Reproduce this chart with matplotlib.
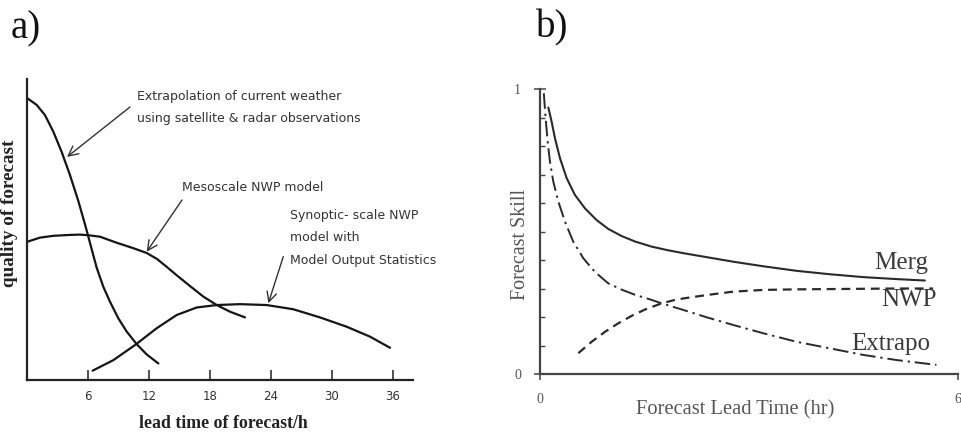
import matplotlib
matplotlib.use("Agg")
import matplotlib.pyplot as plt
from matplotlib.ticker import FixedLocator

# ---------------- data: panel a ----------------
a_extrap_x = [0.03, 0.95, 1.77, 2.59, 3.41, 4.23, 5.05, 5.71, 6.04, 6.37, 6.86, 7.51, 8.17, 8.99, 9.81, 10.8, 11.78, 12.93]
a_extrap_y = [0.936, 0.914, 0.880, 0.825, 0.758, 0.681, 0.595, 0.517, 0.476, 0.434, 0.373, 0.310, 0.260, 0.205, 0.161, 0.119, 0.085, 0.055]
a_meso_x = [0, 1.28, 2.59, 4.23, 5.22, 6.04, 7.19, 8.83, 10.46, 11.78, 12.8, 13.75, 14.7, 15.72, 17.36, 18.68, 19.98, 21.46]
a_meso_y = [0.459, 0.473, 0.479, 0.482, 0.483, 0.481, 0.476, 0.456, 0.438, 0.422, 0.402, 0.376, 0.349, 0.321, 0.277, 0.249, 0.227, 0.208]
a_syn_x = [6.46, 8.5, 10.63, 12.77, 14.74, 16.71, 18.68, 20.97, 23.6, 26.22, 28.84, 31.47, 33.77, 35.74]
a_syn_y = [0.031, 0.066, 0.116, 0.172, 0.216, 0.241, 0.249, 0.252, 0.249, 0.235, 0.208, 0.177, 0.144, 0.107]
a_ticks = [6, 12, 18, 24, 30, 36]
a_tick_labels = ["6", "12", "18", "24", "30", "36"]
a_annot_texts = ["Extrapolation of current weather\nusing satellite & radar observations",
                 "Mesoscale NWP model",
                 "Synoptic- scale NWP\nmodel with\nModel Output Statistics"]

# ---------------- data: panel b ----------------
b_merg_x = [0.12, 0.167, 0.215, 0.287, 0.383, 0.502, 0.646, 0.813, 0.98, 1.172, 1.363, 1.602, 1.841, 2.08,
            2.392, 2.774, 3.204, 3.683, 4.161, 4.639, 5.117, 5.524]
b_merg_y = [0.935, 0.885, 0.827, 0.757, 0.687, 0.628, 0.581, 0.540, 0.509, 0.484, 0.465, 0.447, 0.434, 0.423,
            0.410, 0.394, 0.378, 0.362, 0.350, 0.340, 0.333, 0.328]
b_nwp_x = [0.55, 0.741, 0.933, 1.124, 1.315, 1.506, 1.746, 1.937, 2.08, 2.392, 2.774, 3.204, 3.683, 4.161,
           4.639, 5.117, 5.643]
b_nwp_y = [0.073, 0.113, 0.148, 0.178, 0.204, 0.226, 0.248, 0.260, 0.266, 0.277, 0.289, 0.295, 0.297, 0.298,
           0.299, 0.300, 0.300]
b_ext_x = [0.055, 0.068, 0.081, 0.110, 0.143, 0.191, 0.263, 0.359, 0.478, 0.622, 0.789, 0.98, 1.172, 1.363,
           1.602, 1.746, 2.08, 2.392, 2.774, 3.204, 3.683, 4.161, 4.639, 5.117, 5.691]
b_ext_y = [0.985, 0.940, 0.897, 0.815, 0.745, 0.675, 0.605, 0.534, 0.464, 0.406, 0.358, 0.318, 0.296, 0.278,
           0.260, 0.248, 0.223, 0.199, 0.172, 0.143, 0.113, 0.090, 0.067, 0.049, 0.032]
b_series_names = ["Merg", "NWP", "Extrapo"]
b_xticks = [0, 6]
b_yticks = [0, 1]

W, H = 962, 434
fig = plt.figure(figsize=(W / 100, H / 100), dpi=100)

def fx(px):
    return px / W

def fy(py):
    return 1 - py / H

SERIF = "Liberation Serif"
SANS = "DejaVu Sans"

# ---------------- panel a ----------------
axa = fig.add_axes([fx(27), fy(380), fx(413) - fx(27), fy(79) - fy(380)])
axa.set_xlim(0, 38)
axa.set_ylim(0, 1)
for s in ["top", "right"]:
    axa.spines[s].set_visible(False)
for s in ["left", "bottom"]:
    axa.spines[s].set_linewidth(1.6)
    axa.spines[s].set_color("#222222")
axa.set_yticks([])
axa.set_xticks(a_ticks)
axa.set_xticklabels(a_tick_labels, fontfamily=SANS, fontsize=8.5, color="#333333")
axa.tick_params(axis="x", direction="in", length=7, width=1.1, color="#222222", pad=7)

lc = "#151515"
for xs, ys in [(a_extrap_x, a_extrap_y), (a_meso_x, a_meso_y), (a_syn_x, a_syn_y)]:
    axa.plot(xs, ys, color=lc, lw=1.6, solid_capstyle="round", solid_joinstyle="round")

aprops = dict(arrowstyle="->,head_length=0.7,head_width=0.35", color="#333333", lw=1.0,
              shrinkA=0, shrinkB=0)
axa.annotate("", xy=(3.94, 0.741), xytext=(10.14, 0.907), arrowprops=aprops)
axa.annotate("", xy=(11.78, 0.426), xytext=(15.26, 0.598), arrowprops=aprops)
axa.annotate("", xy=(23.76, 0.255), xytext=(25.23, 0.41), arrowprops=aprops)
axa.text(10.83, 0.906, a_annot_texts[0], fontfamily=SANS, fontsize=9, color="#333333",
         ha="left", va="center", linespacing=1.85)
axa.text(15.26, 0.638, a_annot_texts[1], fontfamily=SANS, fontsize=9, color="#333333",
         ha="left", va="center")
axa.text(25.89, 0.472, a_annot_texts[2], fontfamily=SANS, fontsize=9, color="#333333",
         ha="left", va="center", linespacing=1.95)

fig.text(fx(10), fy(213), "quality of forecast", rotation=90, ha="center", va="center",
         fontfamily=SERIF, fontweight="bold", fontsize=13.8, color="#222222")
fig.text(fx(223), fy(424), "lead time of forecast/h", ha="center", va="center",
         fontfamily=SERIF, fontweight="bold", fontsize=12.8, color="#222222")
fig.text(fx(26), fy(29), "a)", ha="center", va="center", fontfamily=SERIF, fontsize=28, color="#111111")

# ---------------- panel b ----------------
axb = fig.add_axes([fx(540), fy(374), fx(958) - fx(540), fy(89) - fy(374)])
axb.set_xlim(0, 6)
axb.set_ylim(0, 1)
for s in ["top", "right"]:
    axb.spines[s].set_visible(False)
for s in ["left", "bottom"]:
    axb.spines[s].set_linewidth(1.6)
    axb.spines[s].set_color("#444444")
axb.set_yticks(b_yticks)
axb.set_yticklabels([str(v) for v in b_yticks], fontfamily=SERIF, fontsize=10, color="#555555")
axb.yaxis.set_minor_locator(FixedLocator([i / 10 for i in range(1, 10)]))
axb.tick_params(axis="y", which="major", direction="inout", length=8.5, width=1.1, color="#444444", pad=9.5)
axb.tick_params(axis="y", which="minor", direction="in", length=3.5, width=1.0, color="#444444")
axb.set_xticks(b_xticks)
axb.set_xticklabels([str(v) for v in b_xticks], fontfamily=SERIF, fontsize=10, color="#555555")
axb.tick_params(axis="x", direction="out", length=4, width=1.1, color="#444444", pad=10)

bc = "#2a2a2a"
axb.plot(b_merg_x, b_merg_y, color=bc, lw=1.5, solid_capstyle="round", solid_joinstyle="round")
axb.plot(b_nwp_x, b_nwp_y, color=bc, lw=1.6, linestyle=(0, (4.0, 2.6)))
axb.plot(b_ext_x, b_ext_y, color=bc, lw=1.4, linestyle=(0, (8, 2.5, 1.2, 2.5)))

axb.text(5.19, 0.390, b_series_names[0], fontfamily=SERIF, fontsize=18,
         color="#3a3a3a", ha="center", va="center")
axb.text(5.3, 0.260, b_series_names[1], fontfamily=SERIF, fontsize=18,
         color="#3a3a3a", ha="center", va="center")
axb.text(5.03, 0.105, b_series_names[2], fontfamily=SERIF, fontsize=18,
         color="#3a3a3a", ha="center", va="center")

fig.text(fx(521), fy(244), "Forecast Skill", rotation=90, ha="center", va="center",
         fontfamily=SERIF, fontsize=14.5, color="#555555")
fig.text(fx(735), fy(410), "Forecast Lead Time (hr)", ha="center", va="center",
         fontfamily=SERIF, fontsize=14.8, color="#555555")
fig.text(fx(552), fy(28), "b)", ha="center", va="center", fontfamily=SERIF, fontsize=28, color="#111111")

fig.savefig("out.png", dpi=100)
